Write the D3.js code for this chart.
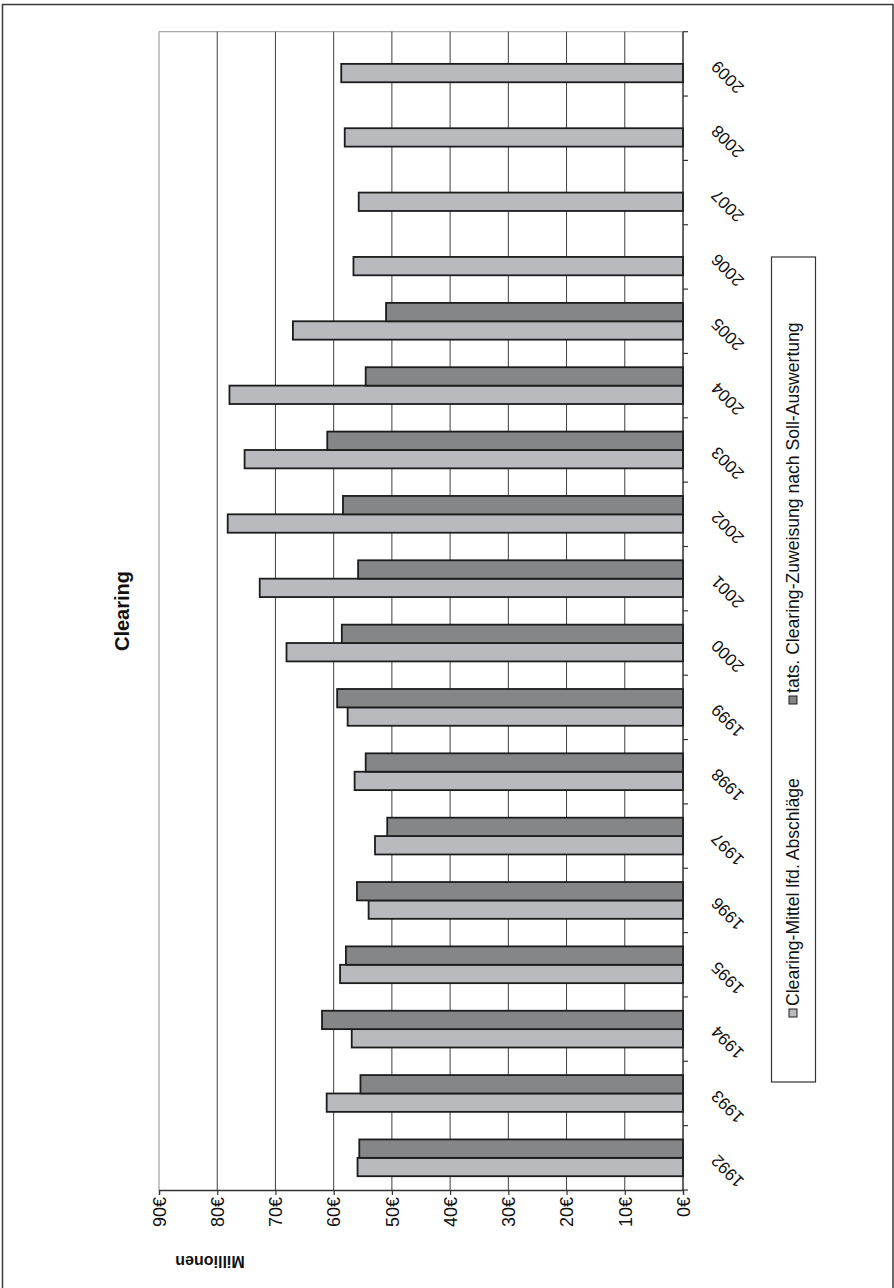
<!DOCTYPE html>
<html>
<head>
<meta charset="utf-8">
<script src="https://cdn.jsdelivr.net/npm/d3@7"></script>
<style>
  html, body { margin: 0; padding: 0; background: #fff; }
  svg { display: block; font-family: "Liberation Sans", Arial, sans-serif; }
</style>
</head>
<body>
<svg id="chart" width="894" height="1288"></svg>
<script>
// Clearing budget per year, in millions of euros
const years = ["1992","1993","1994","1995","1996","1997","1998","1999","2000",
               "2001","2002","2003","2004","2005","2006","2007","2008","2009"];
const clearingMittel = [55.9, 61.2, 56.9, 58.9, 54.0, 52.9, 56.4, 57.6, 68.1,
                        72.7, 78.2, 75.3, 77.9, 67.0, 56.6, 55.7, 58.1, 58.7];
const tatsZuweisung  = [55.6, 55.4, 62.0, 57.9, 56.0, 50.8, 54.5, 59.4, 58.6,
                        55.8, 58.4, 61.1, 54.5, 51.0, null, null, null, null];
const valueTicks = [0, 10, 20, 30, 40, 50, 60, 70, 80, 90];
const seriesNames = ["Clearing-Mittel lfd. Abschläge",
                     "tats. Clearing-Zuweisung nach Soll-Auswertung"];
const seriesKeys = ["mittel", "tats"];
const seriesColors = ["#b9babe", "#858688"];

const svg = d3.select("#chart");

// The chart is laid out turned on its side: values run right-to-left,
// years run bottom-to-top.
const plot = { left: 159, right: 683, top: 31.7, bottom: 1190 };

const x = d3.scaleLinear().domain([0, 90]).range([plot.right, plot.left]);
const y = d3.scaleBand().domain(years).range([plot.bottom, plot.top]).padding(0);
// within a year: gap of 150% bar width, "tats" above, "mittel" below
const inner = d3.scaleBand().domain(["tats", "mittel"])
  .range([0, y.bandwidth()]).paddingInner(0).paddingOuter(0.75);

// outer frame
svg.append("rect")
  .attr("x", 2.5).attr("y", 4.5).attr("width", 890.5).attr("height", 1300)
  .attr("fill", "none").attr("stroke", "#3a3a3a").attr("stroke-width", 1.5);

// plot border (light grey on the far sides)
svg.append("line")
  .attr("x1", plot.left).attr("x2", plot.right).attr("y1", plot.top).attr("y2", plot.top)
  .attr("stroke", "#a8a8a8").attr("stroke-width", 1.3);
svg.append("line")
  .attr("x1", plot.left).attr("x2", plot.left).attr("y1", plot.top).attr("y2", plot.bottom)
  .attr("stroke", "#a8a8a8").attr("stroke-width", 1.3);

// value gridlines
svg.append("g").selectAll("line")
  .data(valueTicks.filter(v => v > 0 && v < 90))
  .join("line")
  .attr("x1", d => x(d)).attr("x2", d => x(d))
  .attr("y1", plot.top).attr("y2", plot.bottom)
  .attr("stroke", "#3f3f3f").attr("stroke-width", 1);

// bars
const rows = years.map((yr, i) => ({ year: yr, mittel: clearingMittel[i], tats: tatsZuweisung[i] }));
const barData = [];
rows.forEach(r => seriesKeys.forEach((k, si) => {
  if (r[k] != null) barData.push({ year: r.year, key: k, value: r[k], color: seriesColors[si] });
}));

svg.append("g").selectAll("rect")
  .data(barData)
  .join("rect")
  .attr("x", d => x(d.value))
  .attr("y", d => y(d.year) + inner(d.key))
  .attr("width", d => x(0) - x(d.value))
  .attr("height", inner.bandwidth())
  .attr("fill", d => d.color)
  .attr("stroke", "#1c1c1c").attr("stroke-width", 1.8);

// value axis along the bottom
const xAxis = d3.axisBottom(x).tickValues(valueTicks).tickSize(5).tickFormat(d => d + "€");
const gx = svg.append("g").attr("transform", `translate(0,${plot.bottom})`).call(xAxis);
gx.select(".domain").attr("stroke", "#333").attr("stroke-width", 1.3);
gx.selectAll(".tick line").attr("stroke", "#333").attr("stroke-width", 1.2);
gx.selectAll(".tick text")
  .attr("fill", "#111")
  .attr("font-size", 18)
  .attr("text-anchor", "end")
  .attr("transform", "rotate(-90)")
  .attr("x", -7).attr("y", 0).attr("dy", "0.35em");

// category axis along the right edge
const yTicks = svg.append("g");
yTicks.append("line")
  .attr("x1", plot.right).attr("x2", plot.right)
  .attr("y1", plot.top).attr("y2", plot.bottom)
  .attr("stroke", "#222").attr("stroke-width", 1.4);
const boundaries = years.map(yr => y(yr)).concat([plot.bottom]);
yTicks.selectAll("line.tk")
  .data(boundaries)
  .join("line").attr("class", "tk")
  .attr("x1", plot.right).attr("x2", plot.right + 5)
  .attr("y1", d => d).attr("y2", d => d)
  .attr("stroke", "#333").attr("stroke-width", 1.2);
yTicks.selectAll("text")
  .data(years)
  .join("text")
  .attr("transform", d => `translate(714,${y(d) + y.bandwidth() / 2}) rotate(-135)`)
  .attr("text-anchor", "end")
  .attr("dy", "0.35em")
  .attr("font-size", 17)
  .attr("fill", "#111")
  .text(d => d);

// title
svg.append("text")
  .attr("transform", "translate(122,611) rotate(-90)")
  .attr("text-anchor", "middle").attr("dy", "0.35em")
  .attr("font-size", 20).attr("font-weight", "bold").attr("fill", "#111")
  .text("Clearing");

// display-units label
svg.append("text")
  .attr("transform", "translate(210,1262) rotate(180)")
  .attr("text-anchor", "middle").attr("dy", "0.35em")
  .attr("font-size", 16).attr("font-weight", "bold").attr("fill", "#111")
  .text("Millionen");

// legend
const legend = svg.append("g");
legend.append("rect")
  .attr("x", 771.5).attr("y", 257).attr("width", 44).attr("height", 825)
  .attr("fill", "#fff").attr("stroke", "#333").attr("stroke-width", 1.2);
const legendStart = [1013, 700];
seriesNames.forEach((name, i) => {
  const cy = legendStart[i];
  legend.append("rect")
    .attr("x", 789).attr("y", cy - 4).attr("width", 8).attr("height", 8)
    .attr("fill", seriesColors[i]).attr("stroke", "#1c1c1c").attr("stroke-width", 1);
  legend.append("text")
    .attr("transform", `translate(793,${cy - 7}) rotate(-90)`)
    .attr("dy", "0.35em")
    .attr("font-size", 17.6).attr("fill", "#111")
    .text(name);
});
</script>
</body>
</html>
